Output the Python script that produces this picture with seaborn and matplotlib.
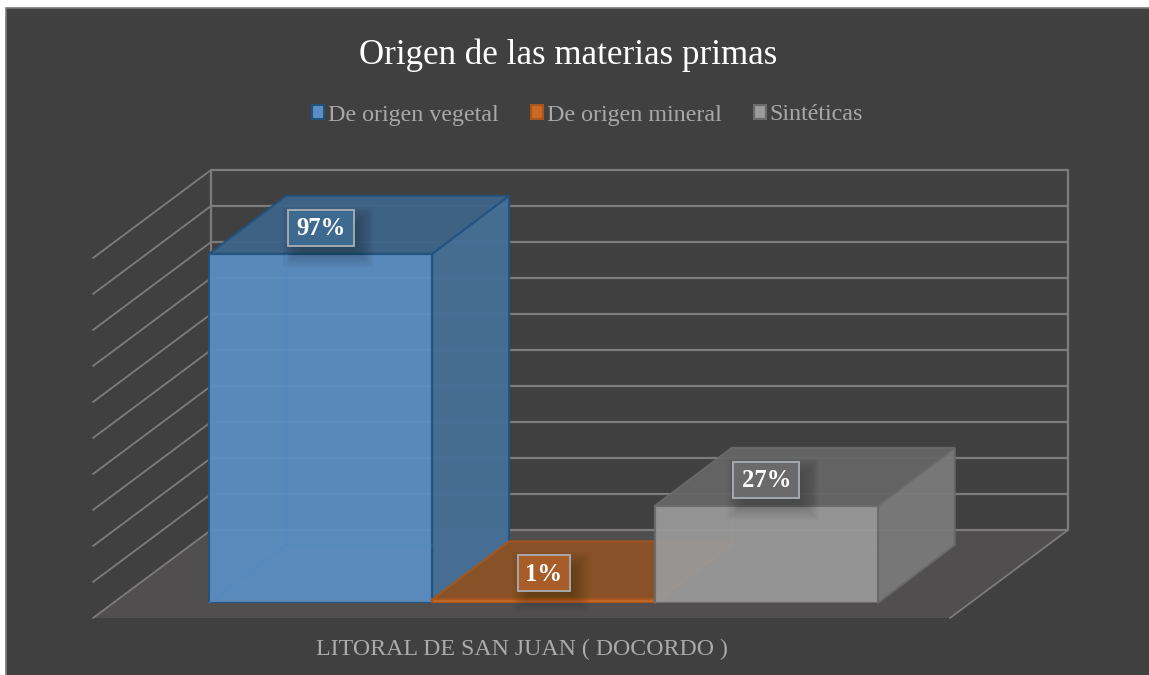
"""
plot.py
-------
Origen de las materias primas - fake 3D bar chart on a dark panel.
Output: out.png
"""

import matplotlib

matplotlib.use("Agg")
import matplotlib.pyplot as plt
import pandas as pd
import seaborn as sns
from matplotlib.patches import Patch, Polygon, Rectangle

# ── Data ──────────────────────────────────────────────────────────────────────
TITLE = "Origen de las materias primas"
ZONE = "LITORAL DE SAN JUAN ( DOCORDO )"
ORIGINS = ["De origen vegetal", "De origen mineral", "Sintéticas"]
PERCENTS = [97, 1, 27]

# ── Style ─────────────────────────────────────────────────────────────────────
W, H = 1149, 675
BG = "#404040"
FLOOR = "#504e4e"
GRID = "#7c7c7c"
FRONT = ["#5b8ec4", "#c96a25", "#9a9a9a"]
EDGE = ["#22527f", "#a8561c", "#6a6a6a"]
TOP = ["#3d6487", "#8c5226", "#666666"]
SIDE = ["#466f96", "#8c5226", "#797979"]
INNER = ["#4a8ac8", "#8c5226", "#a8a29c"]
INNER_ALPHA = [0.55, 0.0, 0.2]
LABEL_BOX = ["#3f6a90", "#a85c28", "#6a6a6a"]

sns.set_theme(style="white")
plt.rcParams["font.family"] = ["Liberation Serif", "DejaVu Serif"]


def px_axes(fig, left, top, right, bottom, **kw):
    return fig.add_axes(
        [left / W, 1 - bottom / H, (right - left) / W, (bottom - top) / H], **kw
    )


fig = plt.figure(figsize=(W / 100, H / 100), dpi=100, facecolor="white")

# ── Backdrop in pixel coordinates ─────────────────────────────────────────────
bg = px_axes(fig, 0, 0, W, H, zorder=1)
bg.set_xlim(0, W)
bg.set_ylim(H, 0)
bg.axis("off")
bg.add_patch(Rectangle((6, 8), W, H, fc=BG, ec="#7a7a7a", lw=1.2))

# floor, back wall and side wall
bg.add_patch(Polygon([(93, 618), (950, 618), (1068, 530), (211, 530)], fc=FLOOR, ec="none"))
for i in range(11):
    shift = 36 * i
    bg.plot([211, 1068], [170 + shift, 170 + shift], color=GRID, lw=1.6)
    bg.plot([93, 211], [258 + shift, 170 + shift], color=GRID, lw=1.3)
bg.plot([211, 211], [170, 530], color=GRID, lw=1.6)
bg.plot([1068, 1068], [170, 530], color=GRID, lw=1.6)
bg.plot([950, 1068], [618, 530], color=GRID, lw=1.3)

# ── Bars: front faces come from seaborn, depth faces follow the bar patches ───
df = pd.DataFrame({"zona": [ZONE] * 3, "origen": ORIGINS, "pct": PERCENTS})
ax = px_axes(fig, 115, 243, 972, 603, zorder=3)
ax.patch.set_alpha(0)
sns.barplot(
    data=df, x="zona", y="pct", hue="origen", hue_order=ORIGINS,
    palette=FRONT, width=0.78, gap=0, saturation=1, legend=False, ax=ax,
)
ax.set_xlim(-0.5, 0.5)
ax.set_ylim(0, 100)
ax.axis("off")

lab = px_axes(fig, 0, 0, W, H, zorder=4)
lab.set_xlim(0, W)
lab.set_ylim(H, 0)
lab.axis("off")

DX, DY = 77, -58
for bar, edge, top, side, inner, a in zip(ax.patches, EDGE, TOP, SIDE, INNER, INNER_ALPHA):
    bar.set(edgecolor=edge, linewidth=1.6, alpha=0.93)
    (x0, y0), (x1, y1) = ax.transData.transform(
        [(bar.get_x(), 0), (bar.get_x() + bar.get_width(), bar.get_height())]
    )
    y0, y1 = H - y0, H - y1
    bg.add_patch(Polygon(
        [(x1, y1), (x1 + DX, y1 + DY), (x1 + DX, y0 + DY), (x1, y0)],
        fc=side, ec=edge, lw=1.4, alpha=0.97, zorder=5,
    ))
    bg.add_patch(Polygon(
        [(x0, y1), (x0 + DX, y1 + DY), (x1 + DX, y1 + DY), (x1, y1)],
        fc=top, ec=edge, lw=1.4, alpha=0.95, zorder=6,
    ))
    # back edges seen through the front face
    lab.plot([x0 + DX, x0 + DX], [y1, y0 + DY], color=inner, lw=1, alpha=a)
    lab.plot([x0, x0 + DX], [y0, y0 + DY], color=inner, lw=1, alpha=a)
    lab.plot([x0 + DX, x1], [y0 + DY, y0 + DY], color=inner, lw=1, alpha=a * 0.6)

# ── Value labels with a soft shadow ───────────────────────────────────────────
for bar, face, pct in zip(ax.patches, LABEL_BOX, PERCENTS):
    cx, cy = ax.transData.transform((bar.get_x() + bar.get_width() / 2, bar.get_height()))
    cy = H - cy - 26
    half = (38 + 14 * len(str(pct))) / 2
    for grow in range(-4, 14):
        lab.add_patch(Rectangle(
            (cx - half - grow + 7, cy - 18 - grow + 9), 2 * half + 2 * grow, 36 + 2 * grow,
            fc="black", ec="none", alpha=0.013,
        ))
    lab.add_patch(Rectangle((cx - half, cy - 18), 2 * half, 36, fc=face, ec="#a9afb6", lw=1.3))
    lab.text(cx, cy + 1, f"{pct}%", color="white", fontsize=17.8, fontweight="bold",
             ha="center", va="center")

# ── Title, legend and category label ──────────────────────────────────────────
lab.text(568, 55, TITLE, color="white", fontsize=25.2, ha="center", va="center")
handles = [Patch(fc=f, ec=e, lw=1.5) for f, e in zip(FRONT, EDGE)]
fig.legend(
    handles, ORIGINS, loc="center", bbox_to_anchor=(587.5 / W, 1 - 115 / H), ncol=3,
    frameon=False, fontsize=17.3, labelcolor="#a8a8a8", handlelength=0.5,
    handleheight=0.5, handletextpad=0.16, columnspacing=1.35,
)
lab.text(522, 649, ZONE, color="#ababab", fontsize=17.2, ha="center", va="center")

fig.savefig("out.png", dpi=100, facecolor="white")
plt.close()
